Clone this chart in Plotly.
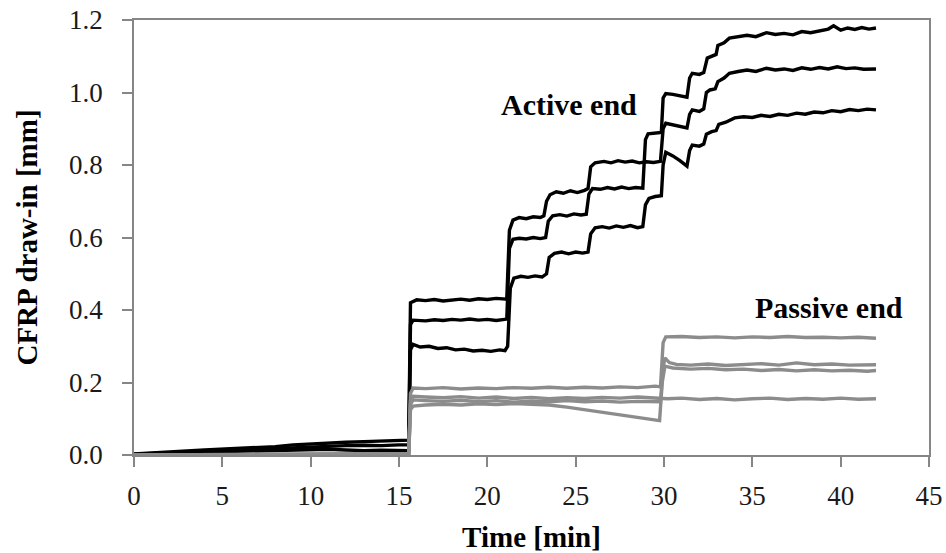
import plotly.graph_objects as go

# ---------------- data ----------------
early_t = [0, 1, 2, 3, 4, 5, 6, 7, 8, 9, 10, 11, 12, 13, 14, 15, 15.55]

# Active end (black) -- three specimens
a1_early = [0.003, 0.005, 0.008, 0.011, 0.014, 0.016, 0.018, 0.020, 0.023, 0.028, 0.031, 0.034, 0.035, 0.037, 0.038, 0.040, 0.041]
a1_t = [15.65, 16.0, 16.5, 17.0, 17.5, 18.0, 18.5, 19.0, 19.5, 20.0, 20.5, 21.1,
        21.25, 21.45, 21.8, 22.2, 22.6, 23.0, 23.2, 23.35, 23.55, 23.9, 24.3, 24.7, 25.1, 25.5, 25.7,
        25.85, 26.1, 26.6, 27.0, 27.4, 27.8, 28.2, 28.6, 29.0, 29.4, 29.8, 29.95, 30.1, 30.5, 30.9, 31.3,
        31.45, 31.6, 32.0, 32.25, 32.4, 32.6, 32.9, 33.05, 33.4, 33.7, 34.2, 34.7, 35.2, 35.8, 36.3, 36.8,
        37.3, 37.8, 38.3, 38.8, 39.3, 39.8, 40.3, 40.8, 41.3, 41.8, 42.0]
a1_v = [0.42, 0.428, 0.426, 0.429, 0.425, 0.428, 0.430, 0.427, 0.431, 0.429, 0.432, 0.430,
        0.62, 0.648, 0.655, 0.652, 0.657, 0.655, 0.66, 0.70, 0.718, 0.726, 0.722, 0.729, 0.724, 0.73, 0.735,
        0.795, 0.806, 0.81, 0.806, 0.812, 0.808, 0.811, 0.806, 0.809, 0.807, 0.81, 0.90, 0.915, 0.91, 0.905, 0.902,
        0.94, 0.952, 0.948, 0.955, 1.0, 1.007, 1.01, 1.03, 1.04, 1.053, 1.058, 1.062, 1.058, 1.067, 1.062, 1.065,
        1.061, 1.068, 1.064, 1.069, 1.065, 1.071, 1.066, 1.068, 1.064, 1.066, 1.065]

a2_early = [0.002, 0.004, 0.007, 0.010, 0.012, 0.014, 0.016, 0.018, 0.020, 0.022, 0.024, 0.025, 0.026, 0.027, 0.026, 0.028, 0.028]
a2_t = [15.65, 15.8, 16.5, 17.0, 17.5, 18.0, 18.5, 19.0, 19.5, 20.0, 20.5, 21.1,
        21.25, 21.45, 21.8, 22.2, 22.6, 23.0, 23.3, 23.45, 23.7, 24.1, 24.5, 24.9, 25.3, 25.6,
        25.75, 25.95, 26.4, 26.8, 27.2, 27.6, 28.0, 28.4, 28.8, 28.95, 29.1, 29.5, 29.85,
        29.95, 30.1, 30.5, 30.9, 31.3, 31.45, 31.6, 32.0, 32.25, 32.45, 32.7, 32.95, 33.05, 33.4, 33.7,
        34.2, 34.7, 35.2, 35.8, 36.3, 36.8, 37.3, 37.8, 38.3, 38.8, 39.3, 39.6, 40.0, 40.4, 40.8, 41.2, 41.6, 42.0]
a2_v = [0.36, 0.372, 0.370, 0.373, 0.371, 0.374, 0.372, 0.375, 0.372, 0.374, 0.371, 0.375,
        0.57, 0.595, 0.598, 0.596, 0.600, 0.597, 0.60, 0.645, 0.66, 0.663, 0.659, 0.665, 0.662, 0.664,
        0.72, 0.735, 0.733, 0.738, 0.734, 0.739, 0.735, 0.738, 0.736, 0.87, 0.886, 0.888, 0.89,
        0.985, 0.997, 0.995, 0.99, 0.987, 1.04, 1.053, 1.05, 1.055, 1.095, 1.1, 1.105, 1.13, 1.137, 1.15,
        1.155, 1.158, 1.154, 1.165, 1.16, 1.163, 1.159, 1.168, 1.165, 1.17, 1.175, 1.184, 1.172, 1.178, 1.174, 1.179, 1.175, 1.178]

a3_early = [0.001, 0.002, 0.004, 0.006, 0.008, 0.009, 0.010, 0.012, 0.013, 0.014, 0.015, 0.016, 0.014, 0.012, 0.013, 0.012, 0.012]
a3_t = [15.65, 15.8, 16.2, 16.7, 17.2, 17.7, 18.2, 18.7, 19.2, 19.7, 20.2, 20.7, 21.0, 21.15,
        21.3, 21.5, 21.9, 22.3, 22.7, 23.1, 23.35, 23.5, 23.8, 24.2, 24.6, 25.0, 25.4, 25.7,
        25.85, 26.1, 26.5, 26.9, 27.3, 27.7, 28.1, 28.5, 28.8, 28.95, 29.15, 29.5, 29.85,
        29.95, 30.1, 30.5, 30.9, 31.3, 31.45, 31.6, 32.0, 32.25, 32.4, 32.7, 32.95, 33.1, 33.5,
        34.0, 34.5, 35.0, 35.5, 36.0, 36.5, 37.0, 37.5, 38.0, 38.5, 39.0, 39.5, 40.0, 40.5, 41.0, 41.5, 42.0]
a3_v = [0.29, 0.305, 0.298, 0.300, 0.294, 0.296, 0.290, 0.292, 0.287, 0.289, 0.286, 0.290, 0.288, 0.30,
        0.46, 0.488, 0.493, 0.49, 0.494, 0.491, 0.50, 0.545, 0.556, 0.56, 0.555, 0.56, 0.557, 0.56,
        0.61, 0.627, 0.63, 0.626, 0.632, 0.628, 0.633, 0.627, 0.63, 0.69, 0.708, 0.713, 0.715,
        0.80, 0.835, 0.825, 0.812, 0.797, 0.84, 0.855, 0.852, 0.858, 0.885, 0.892, 0.895, 0.912, 0.918,
        0.93, 0.933, 0.931, 0.937, 0.934, 0.94, 0.937, 0.943, 0.94, 0.946, 0.944, 0.95, 0.947, 0.953, 0.95, 0.954, 0.952]

# Passive end (grey) -- four specimens
p_early_t = [0, 3, 6, 9, 12, 15.55]
p1_early = [0.0, 0.001, 0.002, 0.003, 0.003, 0.004]
p2_early = [0.0, 0.001, 0.001, 0.002, 0.003, 0.003]
p3_early = [0.0, 0.0, 0.001, 0.002, 0.002, 0.002]
p4_early = [0.0, 0.0, 0.001, 0.001, 0.001, 0.002]

p1_t = [15.65, 15.8, 16.5, 17.5, 18.5, 19.5, 20.5, 21.5, 22.5, 23.5, 24.5, 25.5, 26.5, 27.5, 28.5, 29.5, 29.8,
        29.95, 30.1, 31, 32, 33, 34, 35, 36, 37, 38, 39, 40, 41, 42]
p1_v = [0.17, 0.185, 0.183, 0.186, 0.182, 0.185, 0.183, 0.186, 0.184, 0.187, 0.184, 0.187, 0.185, 0.188, 0.186, 0.19, 0.188,
        0.31, 0.326, 0.327, 0.324, 0.326, 0.323, 0.326, 0.324, 0.327, 0.324, 0.325, 0.323, 0.325, 0.322]

p2_t = [15.65, 15.8, 16.5, 17.5, 18.5, 19.5, 20.5, 21.5, 22.5, 23.5, 24.5, 25.5, 26.5, 27.5, 28.5, 29.5,
        30.2, 31, 32, 33, 34, 35, 36, 37, 38, 39, 40, 41, 42]
p2_v = [0.15, 0.162, 0.16, 0.158, 0.161, 0.157, 0.16, 0.156, 0.159, 0.155, 0.158, 0.156, 0.159, 0.157, 0.16, 0.158,
        0.155, 0.157, 0.153, 0.156, 0.152, 0.155, 0.157, 0.153, 0.156, 0.154, 0.157, 0.154, 0.155]

p3_t = [15.65, 15.8, 16.5, 17.5, 18.5, 19.5, 20.5, 21.5, 22.5, 23.5, 24.5, 25.5, 26.5, 27.5, 28.5, 29.5, 29.8,
        29.95, 30.05, 30.3, 30.7, 31.5, 32.5, 33.5, 34.5, 35.5, 36.5, 37.5, 38.5, 39.5, 40.5, 41.5, 42.0]
p3_v = [0.14, 0.152, 0.15, 0.148, 0.151, 0.147, 0.15, 0.146, 0.149, 0.147, 0.15, 0.147, 0.149, 0.146, 0.148, 0.146, 0.147,
        0.24, 0.268, 0.255, 0.25, 0.248, 0.251, 0.247, 0.25, 0.252, 0.248, 0.254, 0.249, 0.251, 0.248, 0.25, 0.249]

p4_t = [15.65, 15.8, 16.5, 17.5, 18.5, 19.5, 20.5, 21.5, 22.5, 23.5, 24.5, 25.5, 26.5, 27.5, 28.5, 29.3, 29.75,
        29.9, 30.05, 30.5, 31.5, 32.5, 33.5, 34.5, 35.5, 36.5, 37.5, 38.5, 39.5, 40.5, 41.5, 42.0]
p4_v = [0.125, 0.135, 0.138, 0.14, 0.138, 0.141, 0.139, 0.142, 0.14, 0.138, 0.132, 0.125, 0.118, 0.11, 0.104, 0.098, 0.095,
        0.2, 0.245, 0.24, 0.237, 0.239, 0.235, 0.237, 0.233, 0.236, 0.232, 0.235, 0.232, 0.234, 0.231, 0.233]

x_ticks = [0, 5, 10, 15, 20, 25, 30, 35, 40, 45]
y_ticks = [0.0, 0.2, 0.4, 0.6, 0.8, 1.0, 1.2]
y_tick_labels = ["0.0", "0.2", "0.4", "0.6", "0.8", "1.0", "1.2"]

# ---------------- figure ----------------
BLACK = "#000000"
GREY = "#8c8c8c"
AXIS = "#868686"
FONT = "Liberation Serif"

fig = go.Figure()

active = [(a1_early, a1_t, a1_v), (a2_early, a2_t, a2_v), (a3_early, a3_t, a3_v)]
for early, t, v in active:
    fig.add_trace(go.Scatter(x=early_t + t, y=early + v, mode="lines",
                             line=dict(color=BLACK, width=3.4), showlegend=False, hoverinfo="skip"))

passive = [(p1_early, p1_t, p1_v), (p2_early, p2_t, p2_v), (p3_early, p3_t, p3_v), (p4_early, p4_t, p4_v)]
for early, t, v in passive:
    fig.add_trace(go.Scatter(x=p_early_t + t, y=early + v, mode="lines",
                             line=dict(color=GREY, width=3.4), showlegend=False, hoverinfo="skip"))

fig.add_annotation(x=24.6, y=0.966, xref="x", yref="y", text="<b>Active end</b>", showarrow=False,
                   font=dict(family=FONT, size=30, color="#000000"), xanchor="center", yanchor="middle")
fig.add_annotation(x=39.36, y=0.408, xref="x", yref="y", text="<b>Passive end</b>", showarrow=False,
                   font=dict(family=FONT, size=30, color="#000000"), xanchor="center", yanchor="middle")

fig.update_layout(
    width=946, height=553,
    margin=dict(l=134, r=17, t=20, b=98, autoexpand=False),
    paper_bgcolor="white", plot_bgcolor="white",
    font=dict(family=FONT, size=27, color="#1a1a1a"),
    xaxis=dict(range=[0, 45], tickmode="array", tickvals=x_ticks, ticktext=[str(v) for v in x_ticks],
               showgrid=False, zeroline=False, showline=True, linecolor=AXIS, linewidth=1.5, mirror=True,
               ticks="outside", ticklen=10, tickwidth=1.5, tickcolor=AXIS, ticklabelstandoff=6,
               ticklabeloverflow="allow",
               tickfont=dict(family=FONT, size=27, color="#1a1a1a"),
               title=dict(text="<b>Time [min]</b>", font=dict(family=FONT, size=29, color="#000000"), standoff=24)),
    yaxis=dict(range=[0, 1.2], tickmode="array", tickvals=y_ticks, ticktext=y_tick_labels,
               showgrid=False, zeroline=False, showline=True, linecolor=AXIS, linewidth=1.5, mirror=True,
               ticks="outside", ticklen=10, tickwidth=1.5, tickcolor=AXIS, ticklabelstandoff=14,
               ticklabeloverflow="allow",
               tickfont=dict(family=FONT, size=27, color="#1a1a1a"),
               title=dict(text="<b>CFRP draw-in [mm]</b>", font=dict(family=FONT, size=29, color="#000000"), standoff=23)),
)

# remove the default page margin so the 946x553 figure fills the window exactly
fig.write_html("out.html",
               config={"displayModeBar": False},
               post_script="document.body.style.margin='0px';document.body.style.overflow='hidden';")
